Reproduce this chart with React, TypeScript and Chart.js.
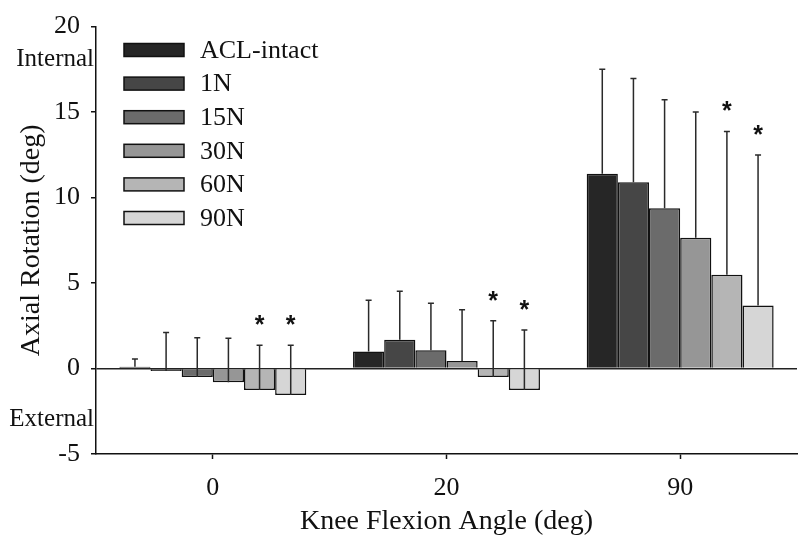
import React, { useEffect, useRef } from "react";
import { Chart, registerables } from "chart.js";

Chart.register(...registerables);

const categories = ["0", "20", "90"];
const seriesNames = ["ACL-intact", "1N", "15N", "30N", "60N", "90N"];
const seriesColors = ["#262626", "#464646", "#6b6b6b", "#969696", "#b5b5b5", "#d6d6d6"];

const aclIntact = [0.1, 1.0, 11.4];
const n1 = [-0.15, 1.68, 10.9];
const n15 = [-0.5, 1.07, 9.38];
const n30 = [-0.8, 0.44, 7.65];
const n60 = [-1.25, -0.5, 5.48];
const n90 = [-1.55, -1.26, 3.68];

const aclIntactErr = [0.45, 3.0, 6.1];
const n1Err = [2.25, 2.84, 6.06];
const n15Err = [2.3, 2.75, 6.34];
const n30Err = [2.57, 3.0, 7.35];
const n60Err = [2.61, 3.3, 8.39];
const n90Err = [2.91, 3.51, 8.81];

const aclIntactSig = [false, false, false];
const n1Sig = [false, false, false];
const n15Sig = [false, false, false];
const n30Sig = [false, false, false];
const n60Sig = [true, true, true];
const n90Sig = [true, true, true];

const yTicks = [-5, 0, 5, 10, 15, 20];
const sideLabels = ["Internal", "External"];
const sideLabelValues = [18.1, -3.0];

const values = [aclIntact, n1, n15, n30, n60, n90];
const errors = [aclIntactErr, n1Err, n15Err, n30Err, n60Err, n90Err];
const sigs = [aclIntactSig, n1Sig, n15Sig, n30Sig, n60Sig, n90Sig];

const SERIF = "'Liberation Serif', 'Times New Roman', serif";

const overlayPlugin = {
  id: "overlay",
  afterDatasetsDraw(chart: any) {
    const ctx = chart.ctx;
    const y = chart.scales.y;
    ctx.save();
    chart.data.datasets.forEach((ds: any, di: number) => {
      const meta = chart.getDatasetMeta(di);
      meta.data.forEach((el: any, i: number) => {
        const v = ds.data[i];
        const top = v + errors[di][i];
        const x = el.x;
        const y0 = y.getPixelForValue(v);
        const y1 = y.getPixelForValue(top);
        ctx.strokeStyle = "#2a2a2a";
        ctx.lineWidth = 1.5;
        ctx.beginPath();
        ctx.moveTo(x, y0);
        ctx.lineTo(x, y1);
        ctx.moveTo(x - 3, y1);
        ctx.lineTo(x + 3, y1);
        ctx.stroke();
        if (sigs[di][i]) {
          ctx.fillStyle = "#111";
          ctx.font = "bold 25px 'Liberation Sans', Arial, sans-serif";
          ctx.textAlign = "center";
          ctx.textBaseline = "middle";
          ctx.fillText("*", x, y1 - 19);
        }
      });
    });
    ctx.restore();
  },
  afterDraw(chart: any) {
    const ctx = chart.ctx;
    const y = chart.scales.y;
    const area = chart.chartArea;
    ctx.save();
    ctx.fillStyle = "#111";
    ctx.font = "25px " + SERIF;
    ctx.textAlign = "right";
    ctx.textBaseline = "middle";
    sideLabels.forEach((t, i) => {
      ctx.fillText(t, area.left - 2, y.getPixelForValue(sideLabelValues[i]));
    });
    const lx = area.left + 28;
    const ly = 50;
    const step = 33.6;
    ctx.font = "26px " + SERIF;
    ctx.textAlign = "left";
    seriesNames.forEach((name, i) => {
      const cy = ly + i * step;
      ctx.fillStyle = seriesColors[i];
      ctx.fillRect(lx, cy - 6.5, 60, 13);
      ctx.strokeStyle = "#111";
      ctx.lineWidth = 1.5;
      ctx.strokeRect(lx, cy - 6.5, 60, 13);
      ctx.fillStyle = "#111";
      ctx.fillText(name, lx + 76, cy + 1);
    });
    ctx.restore();
  },
};

export default function App() {
  const ref = useRef<HTMLCanvasElement>(null);
  useEffect(() => {
    const chart = new Chart(ref.current!, {
      type: "bar",
      data: {
        labels: categories,
        datasets: seriesNames.map((name, i) => ({
          label: name,
          data: values[i],
          backgroundColor: seriesColors[i],
          borderColor: "#111",
          borderWidth: 1.5,
          categoryPercentage: 0.8,
          barPercentage: 1.0,
        })),
      },
      options: {
        responsive: false,
        animation: false,
        layout: { padding: { top: 18, right: 3, left: 0, bottom: 0 } },
        plugins: { legend: { display: false }, tooltip: { enabled: false } },
        scales: {
          x: {
            afterFit: (s: any) => {
              s.height = 84;
            },
            grid: {
              offset: false,
              drawOnChartArea: false,
              drawTicks: true,
              tickLength: 5,
              tickColor: "#111",
              tickWidth: 1.5,
            },
            border: { display: true, color: "#111", width: 1.5 },
            ticks: {
              color: "#111",
              font: { family: SERIF, size: 26 },
              padding: 14,
            },
            title: {
              display: true,
              text: "Knee Flexion Angle (deg)",
              color: "#111",
              font: { family: SERIF, size: 28 },
              padding: { top: 0, bottom: 0 },
            },
          },
          y: {
            min: -5,
            max: 20,
            afterFit: (s: any) => {
              s.width = 96;
            },
            afterBuildTicks: (s: any) => {
              s.ticks = yTicks.map((v) => ({ value: v }));
            },
            grid: {
              drawOnChartArea: true,
              drawTicks: true,
              tickLength: 5,
              color: (c: any) => (c.tick && c.tick.value === 0 ? "#222" : "rgba(0,0,0,0)"),
              lineWidth: 1.5,
              tickColor: "#111",
              tickWidth: 1.5,
            },
            border: { display: true, color: "#111", width: 1.5 },
            ticks: {
              color: "#111",
              font: { family: SERIF, size: 26 },
              padding: 11,
            },
            title: {
              display: true,
              text: "Axial Rotation (deg)",
              color: "#111",
              font: { family: SERIF, size: 28 },
              padding: { top: 15, bottom: 0 },
            },
          },
        },
      },
      plugins: [overlayPlugin],
    });
    return () => chart.destroy();
  }, []);
  return (
    <div style={{ position: "absolute", left: 0, top: 0, width: 800, height: 538, background: "#fff" }}>
      <canvas ref={ref} width={800} height={538} />
    </div>
  );
}
